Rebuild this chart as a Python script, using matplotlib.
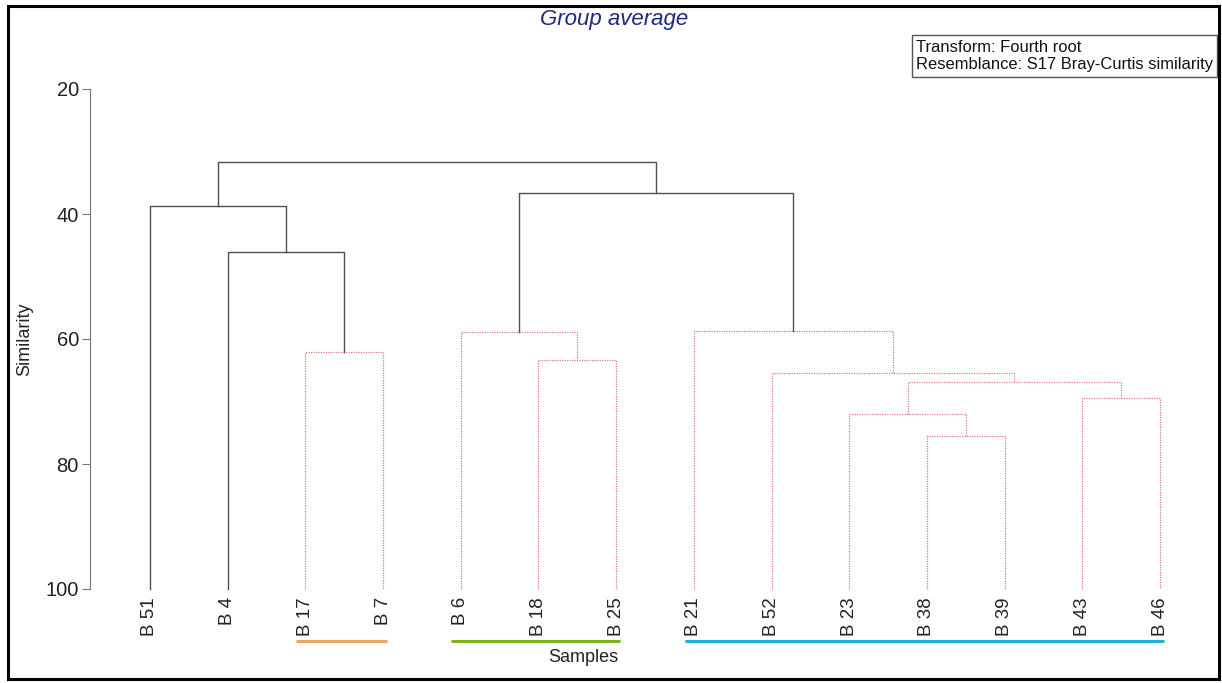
import matplotlib
matplotlib.use("Agg")
import matplotlib.pyplot as plt
from matplotlib.patches import Rectangle
import matplotlib.transforms as mtransforms

plt.rcParams['font.family'] = ['Liberation Sans', 'DejaVu Sans']

# samples (leaf order as drawn)
leaves = ["B 51", "B 4", "B 17", "B 7", "B 6", "B 18", "B 25",
          "B 21", "B 52", "B 23", "B 38", "B 39", "B 43", "B 46"]

# merges: (left node, right node, similarity); new node ids start at len(leaves)
merge_left = [2, 1, 0, 5, 4, 10, 9, 12, 20, 8, 7, 18, 16]
merge_right = [3, 14, 15, 6, 17, 11, 19, 13, 21, 22, 23, 24, 25]
merge_sim = [62.0, 46.1, 38.7, 63.4, 58.9, 75.6, 72.0, 69.4, 66.8, 65.4, 58.7, 36.6, 31.6]
# SIMPROF: merges without significant structure are drawn red dotted
merge_nonsig = [True, False, False, True, True, True, True, True, True, True, True, False, False]

# coloured groups under the labels: (first leaf, last leaf, colour)
group_first = [2, 4, 7]
group_last = [3, 6, 13]
group_colors = ["#e9a765", "#7cb518", "#1eb2d6"]

W, H = 1222, 683
fig = plt.figure(figsize=(W / 100, H / 100), dpi=100)
ax = fig.add_axes([90 / W, (H - 589) / H, 1100 / W, 500 / H])

# node positions
xs = {i: float(i) for i in range(len(leaves))}
ys = {i: 100.0 for i in range(len(leaves))}

black = "#505050"
red = "#e57878"
for k, (a, b, s) in enumerate(zip(merge_left, merge_right, merge_sim)):
    node = len(leaves) + k
    if merge_nonsig[k]:
        kw = dict(color=red, lw=0.9, ls=(0, (1, 1)))
    else:
        kw = dict(color=black, lw=1.0, ls="-")
    ax.plot([xs[a], xs[a], xs[b], xs[b]], [ys[a], s, s, ys[b]], clip_on=False, **kw)
    xs[node] = (xs[a] + xs[b]) / 2
    ys[node] = s

ax.set_xlim(-0.772, 13.385)
ax.set_ylim(100, 20)
for side in ["top", "right", "bottom"]:
    ax.spines[side].set_visible(False)
ax.spines["left"].set_bounds(20, 100)
ax.spines["left"].set_color("#777777")
ax.set_xticks([])
ax.set_yticks([20, 40, 60, 80, 100])
ax.tick_params(axis="y", length=6, color="#777777", labelsize=14.5, labelcolor="#222222", pad=2)

trans = mtransforms.blended_transform_factory(ax.transData, ax.transAxes)
for i, name in enumerate(leaves):
    ax.text(i, -0.016, name, rotation=90, ha="center", va="top", fontsize=13.5,
            color="#222222", transform=trans)

for f, l, c in zip(group_first, group_last, group_colors):
    ax.plot([f - 0.12, l + 0.05], [-0.104, -0.104], color=c, lw=2.2,
            transform=trans, clip_on=False, solid_capstyle="butt")

fig.text(583 / W, 1 - 658 / H, "Samples", ha="center", va="center", fontsize=13, color="#222222")
fig.text(25 / W, 1 - 339 / H, "Similarity", rotation=90, ha="center", va="center",
         fontsize=13, color="#222222")
fig.text(614 / W, 1 - 19 / H, "Group average", ha="center", va="center", fontsize=16,
         style="italic", color="#1c2a80")

# info box
fig.patches.append(Rectangle((912 / W, 1 - 77 / H), 305 / W, 42 / H, transform=fig.transFigure,
                             fill=False, edgecolor="#555555", lw=1))
fig.text(916 / W, 1 - 47 / H, "Transform: Fourth root", ha="left", va="center", fontsize=11.9, color="#111111")
fig.text(916 / W, 1 - 65 / H, "Resemblance: S17 Bray-Curtis similarity", ha="left", va="center",
         fontsize=11.9, color="#111111")

# outer frame
fig.patches.append(Rectangle((8 / W, 4 / H), 1211 / W, 673 / H, transform=fig.transFigure,
                             fill=False, edgecolor="black", lw=2.2))

fig.savefig("out.png", dpi=100)
